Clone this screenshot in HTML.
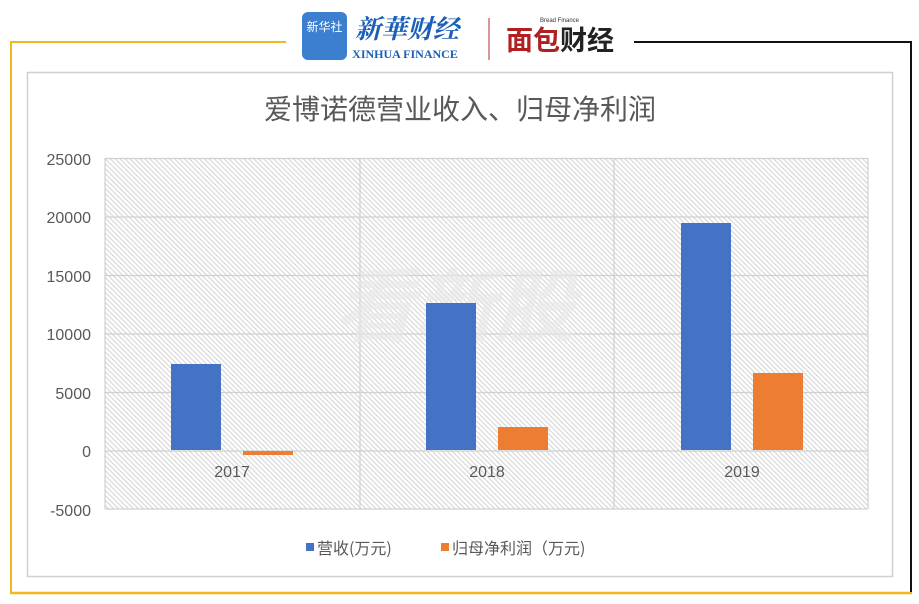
<!DOCTYPE html>
<html><head><meta charset="utf-8"><style>
body{margin:0;background:#fff;width:919px;height:604px;overflow:hidden;font-family:"Liberation Sans","Noto Sans CJK SC",sans-serif;}
</style></head><body>
<svg width="919" height="604" xmlns="http://www.w3.org/2000/svg" style="position:absolute;left:0;top:0">
<defs>
<pattern id="h" width="3.5" height="3.5" patternUnits="userSpaceOnUse" patternTransform="rotate(-45)">
<rect width="3.5" height="3.5" fill="#fff"/>
<rect width="1.2" height="3.5" fill="#d8d8d8"/>
</pattern>
</defs>
<line x1="11" y1="42" x2="286" y2="42" stroke="#f0b820" stroke-width="2"/>
<line x1="11" y1="41" x2="11" y2="594" stroke="#f0b820" stroke-width="2"/>
<line x1="10" y1="593" x2="912" y2="593" stroke="#f0b820" stroke-width="2.5"/>
<line x1="634" y1="42" x2="911" y2="42" stroke="#111" stroke-width="2"/>
<line x1="911" y1="41" x2="911" y2="592" stroke="#111" stroke-width="2"/>
<rect x="302" y="12" width="45" height="48" rx="6" fill="#3c7fd0"/>
<text x="324.5" y="31" font-size="12" fill="#fff" text-anchor="middle" font-family="Noto Sans CJK SC">新华社</text>
<text x="407" y="38" font-size="26" fill="#1a5fb8" text-anchor="middle" font-family="Noto Serif CJK SC" font-style="italic" font-weight="bold">新華财经</text>
<text x="405" y="58" font-size="12" fill="#1a5fb8" text-anchor="middle" font-family="Liberation Serif" font-weight="bold">XINHUA FINANCE</text>
<line x1="489" y1="18" x2="489" y2="60" stroke="#b03030" stroke-width="1"/>
<text x="560" y="50" font-size="27" fill="#b02020" text-anchor="middle" font-family="Noto Sans CJK SC" font-weight="bold">面包<tspan fill="#222">财经</tspan></text>
<text x="540" y="22" font-size="6" fill="#333">Bread Finance</text>
<rect x="27.5" y="72.5" width="865" height="504" fill="#fff" stroke="#d0d0d0" stroke-width="1.5"/>
<text x="460" y="119" font-size="28" fill="#595959" text-anchor="middle" font-family="Noto Sans CJK SC">爱博诺德营业收入、归母净利润</text>
<rect x="105" y="158" width="763" height="351" fill="url(#h)"/>
<g stroke="#d0d0d0" stroke-width="1.2">
<line x1="105" y1="158.5" x2="868" y2="158.5"/><line x1="105" y1="217" x2="868" y2="217"/>
<line x1="105" y1="275.5" x2="868" y2="275.5"/><line x1="105" y1="334" x2="868" y2="334"/>
<line x1="105" y1="392.5" x2="868" y2="392.5"/><line x1="105" y1="451" x2="868" y2="451"/>
<line x1="105" y1="509" x2="868" y2="509"/>
<line x1="105" y1="158" x2="105" y2="509"/><line x1="360" y1="158" x2="360" y2="509"/>
<line x1="614" y1="158" x2="614" y2="509"/><line x1="868" y1="158" x2="868" y2="509"/>
</g>
<text x="455" y="335" font-size="80" fill="#e8e8e8" fill-opacity="0.6" text-anchor="middle" font-weight="bold" font-family="Noto Sans CJK SC" font-style="italic">看新股</text>
<g fill="#4472c4">
<rect x="171" y="364" width="50" height="86"/>
<rect x="426" y="303" width="50" height="147"/>
<rect x="681" y="223" width="50" height="227"/>
</g>
<g fill="#ed7d31">
<rect x="243" y="451" width="50" height="4"/>
<rect x="498" y="427" width="50" height="23"/>
<rect x="753" y="373" width="50" height="77"/>
</g>
<g font-size="16" fill="#595959" text-anchor="end">
<text x="91" y="165">25000</text><text x="91" y="223">20000</text>
<text x="91" y="282">15000</text><text x="91" y="340">10000</text>
<text x="91" y="399">5000</text><text x="91" y="457">0</text>
<text x="91" y="516">-5000</text>
</g>
<g font-size="16" fill="#595959" text-anchor="middle">
<text x="232" y="477">2017</text><text x="487" y="477">2018</text><text x="742" y="477">2019</text>
</g>
<rect x="306" y="543" width="8" height="8" fill="#4472c4"/>
<text x="317" y="554" font-size="16" fill="#595959" font-family="Noto Sans CJK SC">营收(万元)</text>
<rect x="441" y="543" width="8" height="8" fill="#ed7d31"/>
<text x="452" y="554" font-size="16" fill="#595959" font-family="Noto Sans CJK SC">归母净利润（万元)</text>
</svg>
</body></html>
